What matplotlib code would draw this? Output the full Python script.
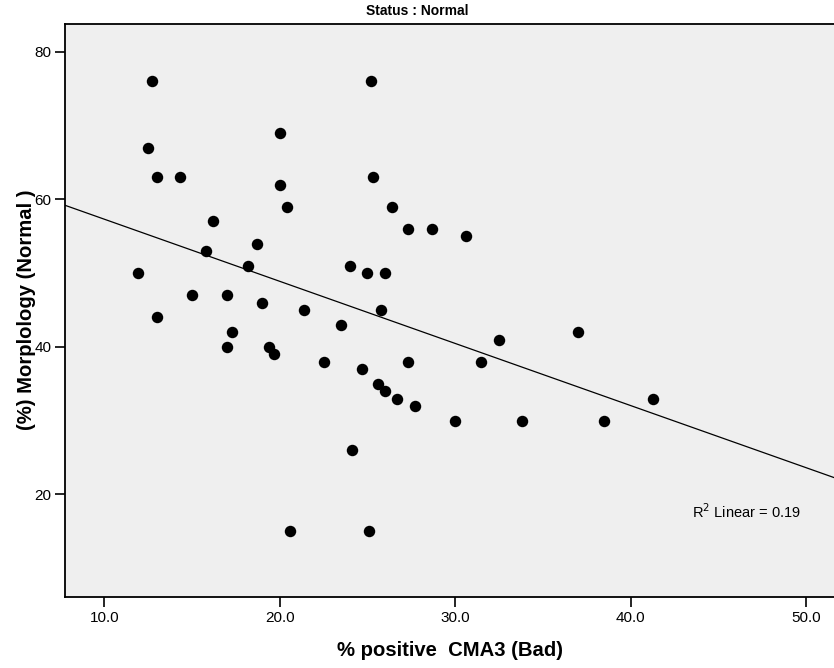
import numpy as np
import matplotlib
matplotlib.use("Agg")
import matplotlib.pyplot as plt

plt.rcParams['font.family'] = ['Liberation Sans', 'DejaVu Sans']

# % positive CMA3 (Bad) vs. % normal morphology, Status = Normal
cma3_bad = [12.7, 25.2, 20.0, 12.5, 13.0, 14.3, 25.3, 20.0, 20.4, 26.4,
            16.2, 27.3, 28.7, 30.6, 18.7, 15.8, 18.2, 24.0, 11.9, 25.0,
            26.0, 15.0, 17.0, 19.0, 21.4, 25.8, 13.0, 23.5, 17.3, 17.0,
            19.4, 19.7, 22.5, 27.3, 31.5, 24.7, 25.6, 26.0, 26.7, 27.7,
            30.0, 24.1, 20.6, 25.1, 37.0, 32.5, 41.3, 33.8, 38.5]
morph_normal = [76, 76, 69, 67, 63, 63, 63, 62, 59, 59,
                57, 56, 56, 55, 54, 53, 51, 51, 50, 50,
                50, 47, 47, 46, 45, 45, 44, 43, 42, 40,
                40, 39, 38, 38, 38, 37, 35, 34, 33, 32,
                30, 26, 15, 15, 42, 41, 33, 30, 30]
r2_linear = 0.19

xticks = [10.0, 20.0, 30.0, 40.0, 50.0]
yticks = [20, 40, 60, 80]

x = np.array(cma3_bad)
y = np.array(morph_normal)
slope, intercept = np.polyfit(x, y, 1)

fig = plt.figure(figsize=(8.34, 6.68), dpi=100)
ax = fig.add_axes([0.0783, 0.1067, 0.9217, 0.8578])
ax.set_facecolor('#efefef')

xlim = (7.78, 51.6)
ax.set_xlim(*xlim)
ax.set_ylim(6.14, 83.8)

ax.scatter(x, y, s=68, color='black', linewidths=0, zorder=3)

# fit line across the whole x range
xs = np.array(xlim)
ax.plot(xs, intercept + slope * xs, color='black', lw=0.9, zorder=2)

ax.text(43.5, 17.7, 'R$^2$ Linear = %.2f' % r2_linear, fontsize=10.5,
        va='center', ha='left')

ax.set_xticks(xticks)
ax.set_xticklabels(['%.1f' % t for t in xticks], fontsize=11)
ax.set_yticks(yticks)
ax.set_yticklabels([str(t) for t in yticks], fontsize=11)
ax.tick_params(direction='out', length=7, width=1.2, pad=3)

for side in ['left', 'bottom', 'top']:
    ax.spines[side].set_linewidth(1.3)
ax.spines['right'].set_visible(False)

ax.set_xlabel('% positive  CMA3 (Bad)', fontsize=14.6, fontweight='bold',
              labelpad=12)
ax.set_ylabel('(%) Morplology (Normal )', fontsize=14.6, fontweight='bold',
              labelpad=-1)
fig.text(0.5, 0.983, 'Status : Normal', ha='center', va='center',
         fontsize=10, fontweight='bold')

fig.savefig('out.png', dpi=100)
